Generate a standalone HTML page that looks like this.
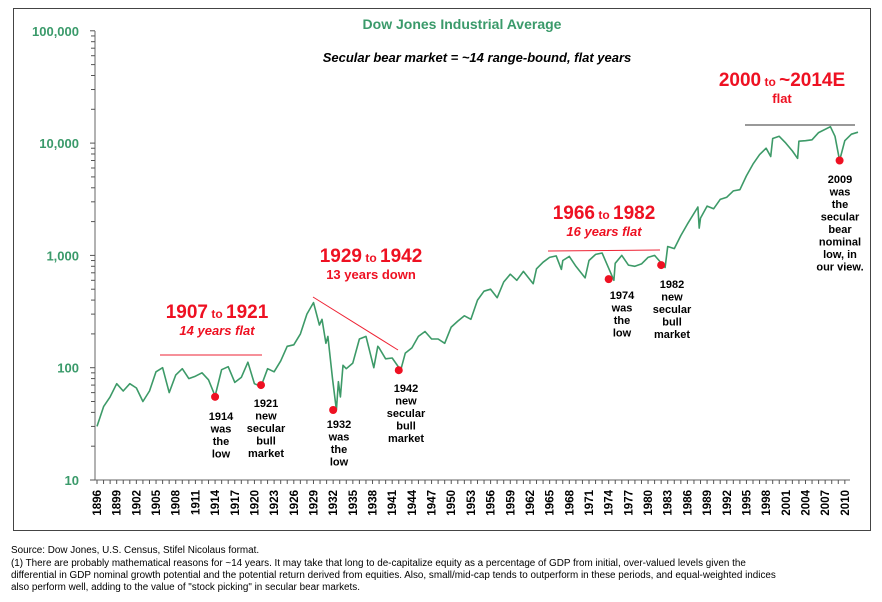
<!DOCTYPE html>
<html><head><meta charset="utf-8"><style>
body{margin:0;background:#fff;font-family:"Liberation Sans",Arial,sans-serif;}
#wrap{position:relative;width:882px;height:602px;overflow:hidden}
.foot{position:absolute;left:11px;font-size:9.9px;color:#000;white-space:nowrap}
</style></head><body><div id="wrap">
<svg id="chart" width="882" height="602" style="position:absolute;left:0;top:0"></svg>
<div class="foot" style="top:545px">Source: Dow Jones, U.S. Census, Stifel Nicolaus format.</div>
<div class="foot" style="top:558px">(1) There are probably mathematical reasons for ~14 years. It may take that long to de-capitalize equity as a percentage of GDP from initial, over-valued levels given the</div>
<div class="foot" style="top:570px">differential in GDP nominal growth potential and the potential return derived from equities. Also, small/mid-cap tends to outperform in these periods, and equal-weighted indices</div>
<div class="foot" style="top:582px">also perform well, adding to the value of "stock picking" in secular bear markets.</div>
</div>
<script>
const years=[1896,1897,1898,1899,1900,1901,1902,1903,1904,1905,1906,1907,1908,1909,1910,1911,1912,1913,1914,1915,1916,1917,1918,1919,1920,1921,1922,1923,1924,1925,1926,1927,1928,1929,1929.9,1930.3,1930.9,1931.2,1931.9,1932.5,1932.8,1933.1,1933.5,1934,1935,1936,1937,1938.2,1938.8,1939,1940,1941,1942.3,1943,1944,1945,1946,1947,1948,1949,1950,1951,1952,1953,1954,1955,1956,1957,1958,1959,1960,1961,1962.5,1963,1964,1965,1966,1966.8,1967,1968,1969,1970.4,1971,1972,1973,1974.8,1975,1976,1977,1978,1979,1980,1981,1982.6,1983,1984,1985,1986,1987.6,1987.8,1988,1989,1990,1991,1992,1993,1994,1995,1996,1997,1998,1998.7,1999,2000,2001,2002,2002.8,2003,2004,2005,2006,2007.8,2008.5,2009.2,2010,2011,2012];
const values=[30,45,55,72,62,72,66,50,62,92,100,60,86,98,80,84,90,78,56,96,102,74,82,112,72,68,98,92,115,155,160,200,300,380,240,270,165,190,80,42,75,55,105,98,110,180,190,100,155,150,120,122,95,135,150,190,210,180,180,165,230,260,290,270,400,480,500,420,580,680,600,720,560,760,870,960,990,750,900,980,800,630,900,1020,1050,600,850,1000,820,800,840,960,1000,780,1200,1150,1500,1900,2700,1750,2150,2750,2600,3150,3300,3750,3850,5100,6500,7900,9000,7600,11000,11500,10000,8500,7300,10400,10500,10700,12400,14000,11500,7000,10500,12000,12500];
const yTicks=[10,100,1000,10000,100000];
const yTickLabels=["10","100","1,000","10,000","100,000"];
const xTickYears=[];for(let y=1896;y<=2010;y+=3)xTickYears.push(y);
const lowYears=[1914,1921,1932,1942,1974,1982,2009.2];
const lowValues=[55,70,42,95,615,820,7000];

const NS="http://www.w3.org/2000/svg",svg=document.getElementById('chart');
const X0=97,PXY=6.56,Y10=480,DEC=112.3;
const xS=y=>X0+(y-1896)*PXY;
const yS=v=>Y10-DEC*Math.log10(v/10);
function el(t,a,p){const e=document.createElementNS(NS,t);for(const k in a)e.setAttribute(k,a[k]);(p||svg).appendChild(e);return e;}
function txt(x,y,s,a){const e=el('text',Object.assign({x:x,y:y},a));e.textContent=s;return e;}
let e;
e=el('rect',{x:13.5,y:8.5,width:857,height:522,fill:'none',stroke:'#444','stroke-width':1});

e=el('line',{x1:95,y1:31,x2:95,y2:480,stroke:'#666'});

e=el('line',{x1:95,y1:480,x2:850,y2:480,stroke:'#666'});

yTicks.forEach((v,i)=>{
 if(i<yTicks.length-1)for(let m=2;m<10;m++){el('line',{x1:91,x2:95,y1:yS(v*m),y2:yS(v*m),stroke:'#555'});}
 el('line',{x1:90,x2:95,y1:yS(v),y2:yS(v),stroke:'#555'});
 e=txt(79,yS(v)+5,yTickLabels[i],{'text-anchor':'end','font-size':13,'font-weight':'bold',fill:'#3a9a6a'});
 
});
for(let y=1896;y<=2010;y++)el('line',{x1:xS(y),x2:xS(y),y1:480,y2:484,stroke:'#555'});
xTickYears.forEach(y=>{
 e=txt(0,0,String(y),{'font-size':11.5,'font-weight':'bold',fill:'#000','text-anchor':'end',transform:`translate(${xS(y)+4},490) rotate(-90)`});
 
});
e=el('polyline',{points:years.map((y,i)=>xS(y).toFixed(1)+','+yS(values[i]).toFixed(1)).join(' '),fill:'none',stroke:'#3d9a68','stroke-width':1.6,'stroke-linejoin':'round'});

lowYears.forEach((y,i)=>{e=el('circle',{cx:xS(y),cy:yS(lowValues[i]),r:4,fill:'#ee1122'});
 });
[[160,355,262,355],[313,297,398,350],[548,251,660,250],[745,125,855,125]].forEach((l,i)=>{
 e=el('line',{x1:l[0],y1:l[1],x2:l[2],y2:l[3],stroke:i==3?'#333':'#ee2233','stroke-width':1});
 });
e=txt(462,29,'Dow Jones Industrial Average',{'text-anchor':'middle','font-size':14,'font-weight':'bold',fill:'#3a9a6a'});

e=txt(477,62,'Secular bear market = ~14 range-bound, flat years',{'text-anchor':'middle','font-size':13,'font-weight':'bold','font-style':'italic',fill:'#000'});

function period(cx,y,a,b,sub,it){
 const t=el('text',{x:cx,y:y,'text-anchor':'middle','font-weight':'bold',fill:'#ee1122','font-size':19});
 
 const s1=el('tspan',{},t);s1.textContent=a;const s2=el('tspan',{'font-size':12},t);s2.textContent=' to ';const s3=el('tspan',{},t);s3.textContent=b;
 const u=txt(cx,y+17,sub,{'text-anchor':'middle','font-weight':'bold','font-style':it?'italic':'normal',fill:'#ee1122','font-size':13});
 
}
period(217,318,'1907','1921','14 years flat',true);
period(371,262,'1929','1942','13 years down',false);
period(604,219,'1966','1982','16 years flat',true);
period(782,86,'2000','~2014E','flat',false);
function note(x,y,lines){lines.forEach((s,i)=>{const t=txt(x,y+i*12.5,s,{'text-anchor':'middle','font-size':11,'font-weight':'bold',fill:'#000'});
 });}
note(221,420,['1914','was','the','low']);
note(266,407,['1921','new','secular','bull','market']);
note(339,428,['1932','was','the','low']);
note(406,392,['1942','new','secular','bull','market']);
note(622,299,['1974','was','the','low']);
note(672,288,['1982','new','secular','bull','market']);
note(840,183,['2009','was','the','secular','bear','nominal','low, in','our view.']);
</script></body></html>
